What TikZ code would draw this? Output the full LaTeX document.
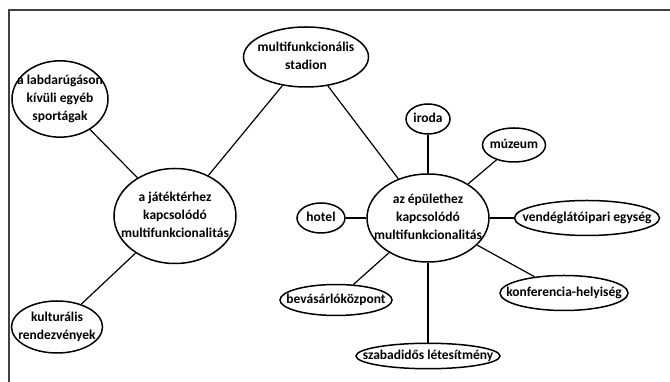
\documentclass[tikz,border=0pt]{standalone}
\usepackage{fontspec}
\setmainfont{Carlito}
\usetikzlibrary{shapes,positioning}
\newcommand{\lbl}[1]{\makebox[0pt]{\begin{tabular}{@{}c@{}}#1\end{tabular}}}
\definecolor{framegray}{gray}{0.25}
\tikzset{
    bubble/.style={
           ellipse,
           draw=black, line width=1.5pt,
           inner sep=0pt,
           text centered,
           font=\fontsize{13.5}{18}\selectfont\bfseries
           },
    link/.style={
           line width=1.2pt
           }
}
\begin{document}
\begin{tikzpicture}[x=1pt, y=1pt, on grid]
   \useasboundingbox (0,0) rectangle (670,382);
   \draw[framegray, line width=1.2pt] (9,0) |- (670,372);
   % two hubs
   \node[bubble, minimum width=122pt, minimum height=88pt] (ep) at (428,164) {\lbl{az épülethez\\kapcsolódó\\multifunkcionalitás}};
   \node[bubble, minimum width=122pt, minimum height=95pt] (jat) at (175,166) {\lbl{a játéktérhez\\kapcsolódó\\multifunkcionalitás}};
   % around the pitch
   \node[bubble] (stadion) [above right=159pt and 131pt of jat, minimum width=125pt, minimum height=60pt] {\lbl{multifunkcionális\\stadion}};
   \node[bubble] (sport) [above left=117pt and 115pt of jat, minimum width=96pt, minimum height=65pt] {\lbl{a labdarúgáson\\kívüli egyéb\\sportágak}};
   \node[bubble] (kult) [below left=111pt and 118pt of jat, minimum width=91pt, minimum height=52pt] {\lbl{kulturális\\rendezvények}};
   % around the building
   \node[bubble] (iroda) [above=99pt of ep, minimum width=44pt, minimum height=30pt] {\lbl{iroda}};
   \node[bubble] (muzeum) [above right=73pt and 86pt of ep, minimum width=63pt, minimum height=34pt] {\lbl{múzeum}};
   \node[bubble] (hotel) [left=107pt of ep, minimum width=48pt, minimum height=30pt] {\lbl{hotel}};
   \node[bubble] (vendeg) [right=159pt of ep, minimum width=145pt, minimum height=35pt] {\lbl{vendéglátóipari egység}};
   \node[bubble] (bevas) [below left=82pt and 92pt of ep, minimum width=112pt, minimum height=31pt] {\lbl{bevásárlóközpont}};
   \node[bubble] (konf) [below right=75pt and 136pt of ep, minimum width=128pt, minimum height=35pt] {\lbl{konferencia-helyiség}};
   \node[bubble] (szabad) [below=138pt of ep, minimum width=144pt, minimum height=24pt] {\lbl{szabadidős létesítmény}};
   \path[link]
    (sport) edge (jat)
    (jat) edge (kult)
    (jat) edge (stadion)
    (stadion) edge (ep)
    (ep) edge (iroda)
    (ep) edge (muzeum)
    (ep) edge (hotel)
    (ep) edge (vendeg)
    (ep) edge (bevas)
    (ep) edge (konf)
    (ep) edge (szabad);
\end{tikzpicture}
\end{document}
